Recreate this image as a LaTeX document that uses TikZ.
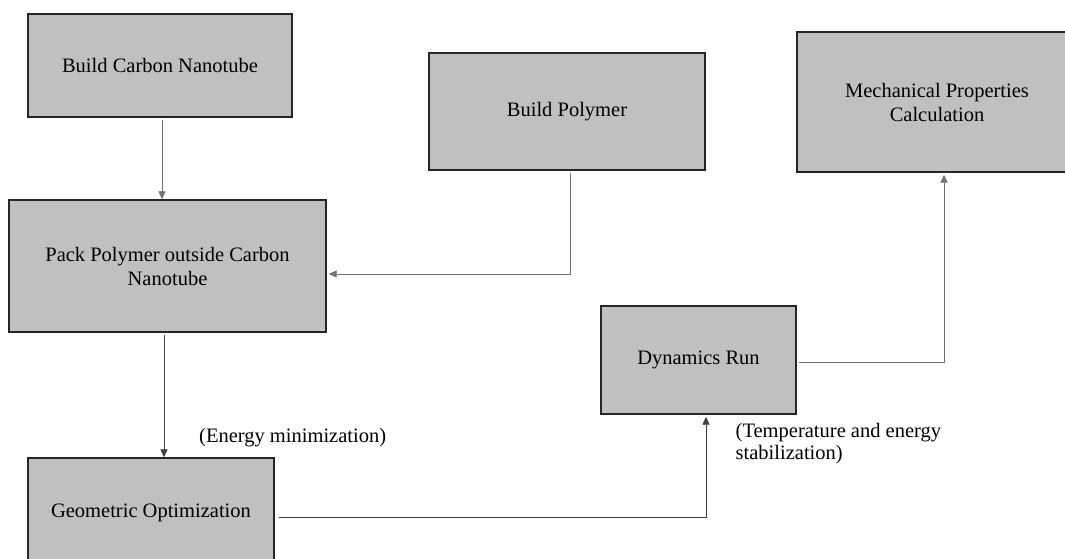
\documentclass[tikz,border=0pt]{standalone}
\usepackage{fontspec}
\setmainfont{Liberation Serif}
\usetikzlibrary{arrows.meta}
\definecolor{boxgray}{HTML}{C0C0C0}
\begin{document}
\begin{tikzpicture}[x=1pt,y=1pt,
  box/.style={draw=black!85, line width=1.4pt, fill=boxgray, inner sep=0pt,
    align=center, font=\fontsize{20.5}{24}\selectfont},
  conn/.style={draw=black!75, line width=0.8pt},
  arr/.style={conn, -{Triangle[length=8pt,width=7pt]}},
  lbl/.style={inner sep=0pt, align=left, font=\fontsize{20.5}{22}\selectfont}]
\useasboundingbox (0,0) rectangle (1065,-559);
\fill[white] (0,0) rectangle (1065,-559);
\clip (0,0) rectangle (1065,-559);

\node[box, minimum width=264pt, minimum height=103pt] (b1) at (160,-65.5) {Build Carbon Nanotube};
\node[box, minimum width=276pt, minimum height=117pt] (b2) at (567,-111.5) {Build Polymer};
\node[box, minimum width=280pt, minimum height=140pt] (mech) at (937,-102) {Mechanical Properties\\Calculation};
\node[box, minimum width=317pt, minimum height=132pt] (pack) at (167.5,-266) {Pack Polymer outside Carbon\\Nanotube};
\node[box, minimum width=195pt, minimum height=108pt] (dyn) at (698.5,-360) {Dynamics Run};
\node[box, minimum width=246pt, minimum height=110pt] (geo) at (151,-513) {Geometric Optimization};

\node[lbl, anchor=west] (em) at (199,-438) {(Energy minimization)};
\node[lbl, anchor=west] (ts) at (735.5,-444) {(Temperature and energy\\stabilization)};

\draw[arr, draw=black!55] ([xshift=2pt,yshift=-2pt]b1.south) -- ([xshift=2pt]b1.south |- pack.north);
\draw[arr, draw=black!55] ([xshift=3pt,yshift=-2pt]b2.south) |- ([yshift=-8pt,xshift=2pt]pack.east);
\draw[arr] ([xshift=-3.5pt,yshift=-2pt]pack.south) -- ([xshift=-3.5pt]pack.south |- geo.north);
\draw[arr] ([yshift=-4pt,xshift=4pt]geo.east) -| ([xshift=7.5pt,yshift=-2pt]dyn.south);
\draw[arr, draw=black!55] ([yshift=-2pt,xshift=2pt]dyn.east) -| ([xshift=7pt,yshift=-2pt]mech.south);
\end{tikzpicture}
\end{document}
